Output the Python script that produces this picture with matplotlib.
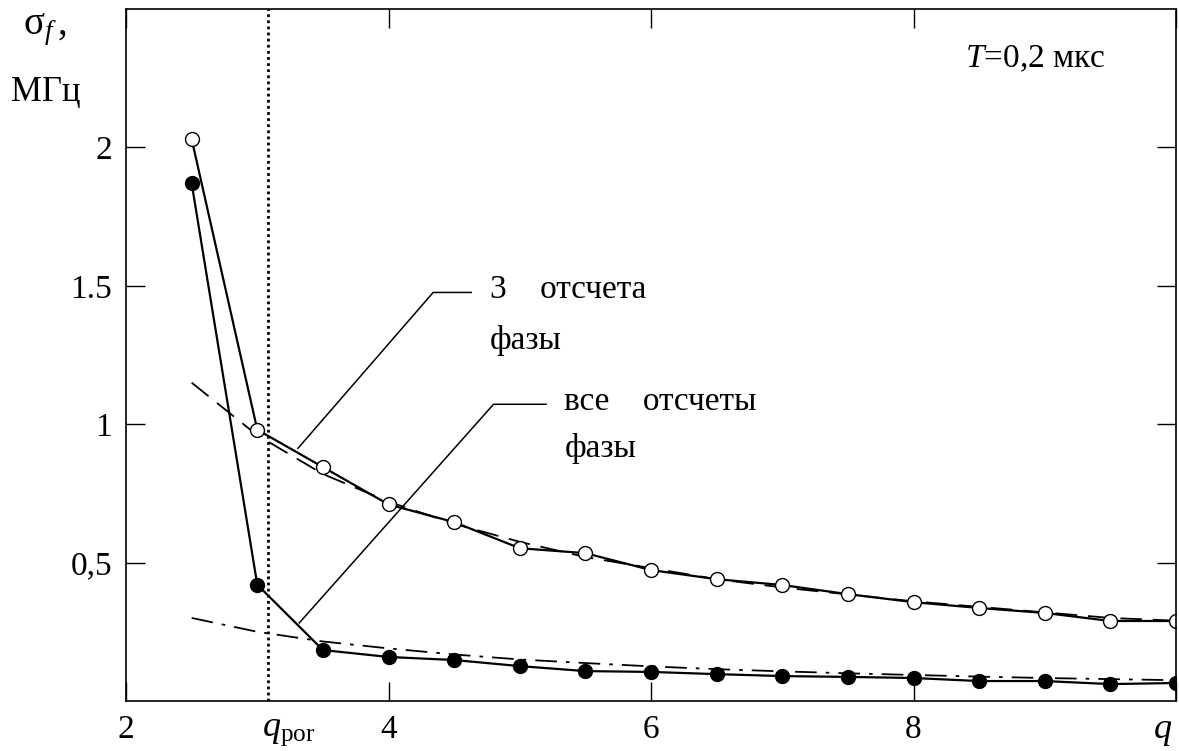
import numpy as np
import matplotlib
matplotlib.use("Agg")
import matplotlib.pyplot as plt

plt.rcParams['font.family'] = ['Liberation Serif', 'DejaVu Serif']
plt.rcParams['mathtext.fontset'] = 'custom'
plt.rcParams['mathtext.rm'] = 'Liberation Serif'
plt.rcParams['mathtext.it'] = 'Liberation Serif:italic'

q = [2.5, 3, 3.5, 4, 4.5, 5, 5.5, 6, 6.5, 7, 7.5, 8, 8.5, 9, 9.5, 10]
# 3 phase samples (open circles)
s3 = [2.03, 0.98, 0.845, 0.71, 0.646, 0.552, 0.534, 0.473, 0.44, 0.419,
      0.386, 0.357, 0.336, 0.318, 0.289, 0.289]
# all phase samples (filled)
sall = [1.87, 0.42, 0.184, 0.159, 0.148, 0.126, 0.108, 0.105, 0.097, 0.09,
        0.087, 0.083, 0.072, 0.072, 0.061, 0.065]
# approximating curves
fit3 = [1.15, 0.96, 0.82, 0.72, 0.64, 0.575, 0.52, 0.48, 0.44, 0.41,
        0.385, 0.36, 0.34, 0.32, 0.30, 0.29]
fitall = [0.30, 0.25, 0.215, 0.19, 0.168, 0.15, 0.137, 0.125, 0.115, 0.107,
          0.10, 0.094, 0.088, 0.083, 0.079, 0.075]
q_por = 3.08

fig = plt.figure(figsize=(11.79, 7.51), dpi=100)
ax = fig.add_axes([0.1069, 0.0666, 0.8906, 0.9214])

ax.plot(q, fit3, color='k', lw=1.3, dashes=(12, 6))
ax.plot(q, fitall, color='k', lw=1.3, dashes=(12, 5, 2, 5))
ax.plot(q, s3, 'k-', lw=1.6, marker='o', mfc='white', mec='k', mew=1.0, ms=10)
ax.plot(q, sall, 'k-', lw=1.6, marker='o', mfc='k', mec='k', ms=10)
ax.axvline(q_por, color='k', lw=2, ls=(0, (1, 1.2)))

ax.set_xlim(2, 10)
ax.set_ylim(0, 2.5)
ax.set_xticks([2, 4, 6, 8, 10])
ax.set_xticklabels(['2', '4', '6', '8', ''])
ax.set_yticks([0.5, 1, 1.5, 2])
ax.set_yticklabels(['0,5', '1', '1.5', '2'])
ax.tick_params(direction='in', length=14, width=1, labelsize=24,
               top=True, right=True, pad=10)
for sp in ax.spines.values():
    sp.set_linewidth(1.2)

# annotations
ax.plot([3.31, 4.34, 4.63], [0.913, 1.476, 1.476], 'k-', lw=1.1)
ax.text(4.77, 1.484, '3    отсчета', fontsize=24, va='center')
ax.text(4.77, 1.303, 'фазы', fontsize=24, va='center')
ax.plot([3.32, 4.80, 5.20], [0.282, 1.072, 1.072], 'k-', lw=1.1)
ax.text(5.34, 1.08, 'все    отсчеты', fontsize=24, va='center')
ax.text(5.34, 0.913, 'фазы', fontsize=24, va='center')
ax.text(8.39, 2.32, '$T$=0,2 мкс', fontsize=24, va='center')

ax.text(q_por + 0.16, -0.112, r'$q_{\mathrm{por}}$', fontsize=26,
        ha='center', va='center')
ax.text(9.97, -0.11, '$q$', fontsize=26, ha='right', va='center')
fig.text(45 / 1179, 1 - 30 / 751, r'$\mathrm{\sigma}_{f}\,$,', fontsize=28,
         ha='center', va='center')
fig.text(46 / 1179, 1 - 92 / 751, 'МГц', fontsize=25, ha='center', va='center')

fig.savefig('out.png', dpi=100)
